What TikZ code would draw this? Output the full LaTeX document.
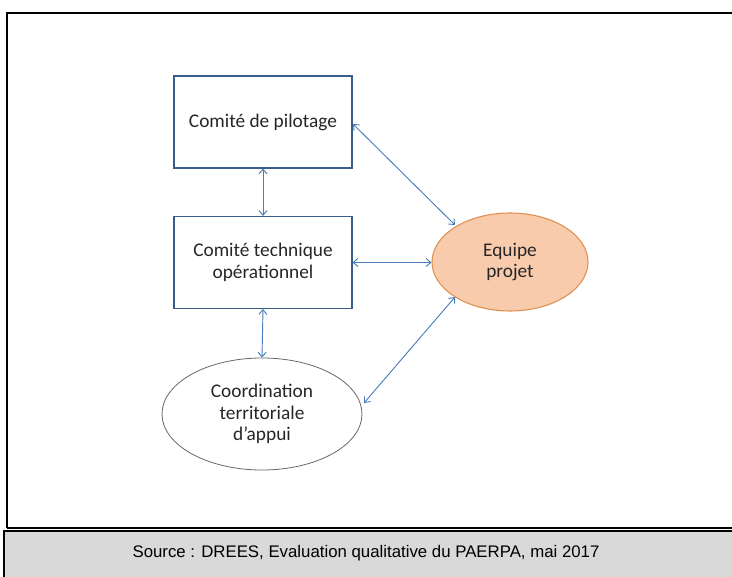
\documentclass[tikz,border=0pt]{standalone}
\usepackage{fontspec}
\setmainfont{Carlito}
\newfontfamily\arialfont{Liberation Sans}
\usetikzlibrary{shapes.geometric,arrows.meta}
\definecolor{boxblue}{HTML}{385D8A}
\definecolor{arrowblue}{HTML}{4A7EBB}
\definecolor{orfill}{HTML}{F8CBAD}
\definecolor{ordraw}{HTML}{E0904E}
\definecolor{greybg}{HTML}{D9D9D9}
\definecolor{txt}{HTML}{262626}
\tikzset{
  rectbox/.style={draw=boxblue, line width=0.8pt, minimum width=178*0.75pt, minimum height=92*0.75pt, align=center, text=txt, font=\fontsize{14.5}{16}\selectfont},
  ellnode/.style={ellipse, draw=gray!80!black, line width=0.6pt, minimum width=200*0.75pt, minimum height=112*0.75pt, align=center, inner sep=0pt, text=txt, font=\fontsize{14.5}{16}\selectfont},
  orell/.style={ellipse, draw=ordraw, fill=orfill, line width=0.8pt, minimum width=156*0.75pt, minimum height=98*0.75pt, align=center, inner sep=0pt, text=txt, font=\fontsize{14.5}{16}\selectfont},
  link/.style={draw=arrowblue, line width=0.7pt, {Straight Barb[length=3.5pt,width=6pt]}-{Straight Barb[length=3.5pt,width=6pt]}}
}
\begin{document}
\begin{tikzpicture}[x=0.75pt,y=-0.75pt]
\useasboundingbox (0,0) rectangle (732,577);
% outer frame
\draw[black, line width=1.2pt] (7,528) -- (7,13) -- (732,13);
\draw[black, line width=1.2pt] (7,528) -- (732,528);
% grey source band
\fill[greybg] (4,531) rectangle (732,577);
\draw[black, line width=1.5pt] (4,577) -- (4,531) -- (732,531);
\node (src) at (366,553) {\arialfont\fontsize{12.6}{15}\selectfont Source : DREES, Evaluation qualitative du PAERPA, mai 2017};
% nodes
\node[rectbox] (pil) at (263,122) {Comité de pilotage};
\node[rectbox] (tech) at (263,262.5) {Comité technique\\opérationnel};
\node[ellnode] (coord) at (262,414) {Coordination\\territoriale\\d’appui};
\node[orell] (equipe) at (510,262) {Equipe\\projet};
% connectors
\draw[link] (pil.south) -- (tech.north);
\draw[link] (tech.south) -- (coord.north);
\draw[link] (tech.east) -- (tech.east -| equipe.west);
\coordinate (a1) at (353,124);
\coordinate (b1) at (455,225);
\draw[link] (a1) -- (b1);
\coordinate (a2) at (455,297);
\coordinate (b2) at (364,403);
\draw[link] (a2) -- (b2);
\end{tikzpicture}
\end{document}
